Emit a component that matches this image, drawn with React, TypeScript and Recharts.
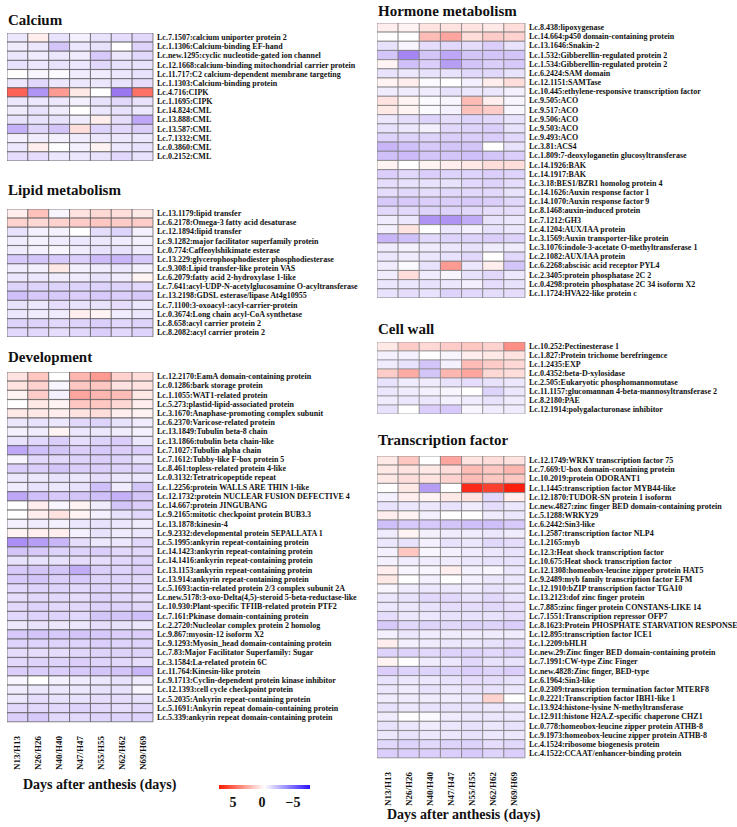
import React from "react"
import { BarChart, Bar, Cell, XAxis, YAxis } from "recharts"

const columns = ["N13/H13", "N26/H26", "N40/H40", "N47/H47", "N55/H55", "N62/H62", "N69/H69"]

const calciumGenes = [
  "Lc.7.1507:calcium uniporter protein 2",
  "Lc.1.1306:Calcium-binding EF-hand",
  "Lc.new.1295:cyclic nucleotide-gated ion channel",
  "Lc.12.1668:calcium-binding mitochondrial carrier protein",
  "Lc.11.717:C2 calcium-dependent membrane targeting",
  "Lc.1.1303:Calcium-binding protein",
  "Lc.4.716:CIPK",
  "Lc.1.1695:CIPK",
  "Lc.14.824:CML",
  "Lc.13.888:CML",
  "Lc.13.587:CML",
  "Lc.7.1332:CML",
  "Lc.0.3860:CML",
  "Lc.0.2152:CML",
]
const calciumValues = [
  [-0.5, 0.3, -0.6, -0.3, -0.6, -0.7, -0.8],
  [-0.4, -0.5, -1.2, -0.5, -0.6, 0, -0.9],
  [-0.5, -0.4, -0.5, -0.4, -1.1, -0.5, -0.8],
  [-0.6, -0.5, -0.6, -0.5, -0.8, -0.6, -0.6],
  [0, -0.2, -0.1, -0.4, -0.4, -0.5, -0.6],
  [-0.5, -0.8, -0.5, -0.5, -0.5, -0.6, -0.7],
  [2.8, -2.2, 1.8, 0.4, 0, -2.8, 2.5],
  [-0.5, -0.5, -0.5, -0.3, -0.6, -0.8, -0.6],
  [-0.4, -0.6, -0.4, 0, -0.5, -0.6, -0.5],
  [-0.6, -0.6, -0.6, -0.4, 0.3, -0.7, -1.8],
  [-1.6, -0.9, -1.2, 0.6, -0.9, -0.8, -1.0],
  [-0.3, -0.4, -0.3, -0.4, -0.5, -0.5, -0.5],
  [-0.5, 0.3, 0, -0.3, 0.2, -0.5, -0.6],
  [-0.7, -0.7, -0.5, -0.5, -0.6, -0.8, -0.6],
]

const lipidGenes = [
  "Lc.13.1179:lipid transfer",
  "Lc.6.2178:Omega-3 fatty acid desaturase",
  "Lc.12.1894:lipid transfer",
  "Lc.9.1282:major facilitator superfamily protein",
  "Lc.0.774:Caffeoylshikimate esterase",
  "Lc.13.229:glycerophosphodiester phosphodiesterase",
  "Lc.9.308:Lipid transfer-like protein VAS",
  "Lc.6.2079:fatty acid 2-hydroxylase 1-like",
  "Lc.7.641:acyl-UDP-N-acetylglucosamine O-acyltransferase",
  "Lc.13.2198:GDSL esterase/lipase At4g10955",
  "Lc.7.1100:3-oxoacyl-:acyl-carrier-protein",
  "Lc.0.3674:Long chain acyl-CoA synthetase",
  "Lc.8.658:acyl carrier protein 2",
  "Lc.8.2082:acyl carrier protein 2",
]
const lipidValues = [
  [0.3, 1.1, -0.2, 0.5, 0.7, 0.6, 0.4],
  [0.8, 0.7, 0.8, 0.9, 1.0, 0.9, 0.9],
  [-0.6, -0.3, -0.3, 0, -0.7, -0.9, -0.3],
  [-0.4, -0.3, -0.4, -0.5, -0.5, -0.4, -0.3],
  [-0.4, -0.3, -0.2, -0.4, -0.6, -0.6, -0.4],
  [-1.1, -1.2, -1.1, -1.0, -1.4, -1.5, -1.1],
  [-0.4, -0.3, 0.4, -0.3, -0.4, -0.5, -0.3],
  [-0.5, -0.5, -0.4, -0.4, -0.6, -0.4, 0.2],
  [-0.9, -0.9, -0.9, -0.9, -0.9, -0.9, -0.8],
  [-1.3, -1.1, -1.1, -1.0, -1.1, -1.0, -1.1],
  [-0.6, -0.5, -0.7, -0.6, -0.6, -0.7, -0.5],
  [-0.5, -0.4, -0.4, 0.3, 0.2, -0.4, -0.5],
  [-0.9, -0.9, -0.8, -0.9, -1.0, -0.8, -0.9],
  [-0.8, -0.8, -0.7, -0.8, -1.0, -0.8, -0.9],
]

const developmentGenes = [
  "Lc.12.2170:EamA domain-containing protein",
  "Lc.0.1286:bark storage protein",
  "Lc.1.1055:WAT1-related protein",
  "Lc.5.273:plastid-lipid-associated protein",
  "Lc.3.1670:Anaphase-promoting complex subunit",
  "Lc.6.2370:Varicose-related protein",
  "Lc.13.1849:Tubulin beta-8 chain",
  "Lc.13.1866:tubulin beta chain-like",
  "Lc.7.1027:Tubulin alpha chain",
  "Lc.7.1612:Tubby-like F-box protein 5",
  "Lc.8.461:topless-related protein 4-like",
  "Lc.0.3132:Tetratricopeptide repeat",
  "Lc.1.2256:protein WALLS ARE THIN 1-like",
  "Lc.12.1732:protein NUCLEAR FUSION DEFECTIVE 4",
  "Lc.14.667:protein JINGUBANG",
  "Lc.9.2165:mitotic checkpoint protein BUB3.3",
  "Lc.13.1878:kinesin-4",
  "Lc.9.2332:developmental protein SEPALLATA 1",
  "Lc.5.1995:ankyrin repeat-containing protein",
  "Lc.14.1423:ankyrin repeat-containing protein",
  "Lc.14.1416:ankyrin repeat-containing protein",
  "Lc.13.1153:ankyrin repeat-containing protein",
  "Lc.13.914:ankyrin repeat-containing protein",
  "Lc.5.1693:actin-related protein 2/3 complex subunit 2A",
  "Lc.new.5178:3-oxo-Delta(4,5)-steroid 5-beta-reductase-like",
  "Lc.10.930:Plant-specific TFIIB-related protein PTF2",
  "Lc.7.161:Pkinase domain-containing protein",
  "Lc.2.2720:Nucleolar complex protein 2 homolog",
  "Lc.9.867:myosin-12 isoform X2",
  "Lc.9.1293:Myosin_head domain-containing protein",
  "Lc.7.83:Major Facilitator Superfamily: Sugar",
  "Lc.3.1584:La-related protein 6C",
  "Lc.11.764:Kinesin-like protein",
  "Lc.9.1713:Cyclin-dependent protein kinase inhibitor",
  "Lc.12.1393:cell cycle checkpoint protein",
  "Lc.5.2035:Ankyrin repeat-containing protein",
  "Lc.5.1691:Ankyrin repeat domain-containing protein",
  "Lc.5.339:ankyrin repeat domain-containing protein",
]
const developmentValues = [
  [0.5, 1.0, 0, 1.3, 1.8, 0.8, 0.6],
  [0.5, 0.8, -0.2, 1.0, 1.0, 0.5, 0.5],
  [0.2, 0.9, -0.3, 1.6, 1.3, 1.2, 0.4],
  [0, 0.4, 0.2, 1.0, 1.0, 0.7, 0.3],
  [0.4, 0.4, 0.3, 0.5, 0.6, 0.3, 0.2],
  [-0.5, -0.6, -0.5, -0.8, -0.9, -0.6, -0.4],
  [-0.3, -0.4, 0.2, -0.5, -0.5, -0.4, -0.3],
  [-0.6, -0.8, -1.0, -0.7, -0.9, -1.0, -0.5],
  [-1.8, -1.3, -1.2, -1.0, -1.1, -1.0, -1.0],
  [-0.2, -0.8, -0.8, -0.9, -1.0, -0.9, -0.6],
  [-1.0, -1.0, -1.2, -1.0, -1.0, -0.9, -0.9],
  [-0.5, -0.5, -0.6, -0.5, -0.7, -0.5, -0.5],
  [-0.4, -0.6, -0.5, -0.6, -1.3, -0.4, -1.2],
  [-1.8, -1.3, -1.1, -1.2, -1.3, -1.6, -1.2],
  [0, 0.3, -0.2, 0.2, -0.4, -1.2, -1.0],
  [0, 0.3, 0.5, 0.2, -0.3, -0.6, -0.8],
  [-0.3, -0.4, -0.3, -0.5, -0.6, -0.5, -0.4],
  [0.2, 0.3, 0.3, -0.3, -0.6, -0.4, -0.5],
  [-2.3, -2.0, -1.5, -0.7, -0.5, -0.5, -0.8],
  [-1.2, -1.1, -0.9, -0.9, -1.0, -0.8, -0.8],
  [-0.6, -0.6, -0.6, -0.7, -0.7, -0.8, -0.9],
  [-1.1, -1.2, -1.2, -1.7, -1.0, -0.9, -1.0],
  [-1.1, -1.2, -1.0, -1.1, -0.9, -0.9, -0.8],
  [-0.8, -0.9, -0.9, -0.8, -0.9, -0.8, -0.8],
  [-0.7, -0.8, -0.8, -0.7, -0.9, -0.8, -0.7],
  [-0.8, -0.9, -0.8, -0.8, -0.9, -0.9, -0.8],
  [-0.8, -0.9, -0.9, -0.8, -1.2, -1.2, -1.3],
  [-0.5, -0.6, -0.5, -0.5, -0.7, -0.6, -0.5],
  [-1.1, -1.2, -1.1, -1.2, -1.1, -1.0, -1.0],
  [-0.9, -0.9, -0.9, -0.9, -1.0, -0.9, -0.9],
  [-0.7, -0.7, -0.7, -0.8, -0.9, -0.9, -0.9],
  [-0.8, -0.9, -0.9, -1.0, -0.9, -0.8, -0.7],
  [-1.0, -1.0, -1.0, -1.1, -1.2, -1.2, -1.5],
  [-0.2, 0, -0.3, -0.4, -0.5, -0.6, -0.4],
  [-0.4, -0.5, -0.5, -0.5, -0.6, -0.6, -0.2],
  [-0.5, -0.7, -0.6, -0.6, -0.7, -0.7, -0.6],
  [-0.8, -0.8, -0.8, -0.9, -0.8, -0.7, -0.8],
  [-1.0, -1.1, -0.8, -0.8, -0.9, -0.9, -0.9],
]

const hormoneGenes = [
  "Lc.8.438:lipoxygenase",
  "Lc.14.664:p450 domain-containing protein",
  "Lc.13.1646:Snakin-2",
  "Lc.1.532:Gibberellin-regulated protein 2",
  "Lc.1.534:Gibberellin-regulated protein 2",
  "Lc.6.2424:SAM domain",
  "Lc.12.1151:SAMTase",
  "Lc.10.445:ethylene-responsive transcription factor",
  "Lc.9.505:ACO",
  "Lc.9.517:ACO",
  "Lc.9.506:ACO",
  "Lc.9.503:ACO",
  "Lc.9.493:ACO",
  "Lc.3.81:ACS4",
  "Lc.1.809:7-deoxyloganetin glucosyltransferase",
  "Lc.14.1926:BAK",
  "Lc.14.1917:BAK",
  "Lc.3.18:BES1/BZR1 homolog protein 4",
  "Lc.14.1626:Auxin response factor 1",
  "Lc.14.1070:Auxin response factor 9",
  "Lc.8.1468:auxin-induced protein",
  "Lc.7.1212:GH3",
  "Lc.4.1204:AUX/IAA protein",
  "Lc.3.1569:Auxin transporter-like protein",
  "Lc.3.1076:indole-3-acetate O-methyltransferase 1",
  "Lc.2.1082:AUX/IAA protein",
  "Lc.6.2268:abscisic acid receptor PYL4",
  "Lc.2.3405:protein phosphatase 2C 2",
  "Lc.0.4298:protein phosphatase 2C 34 isoform X2",
  "Lc.1.1724:HVA22-like protein c",
]
const hormoneValues = [
  [0.3, 0.2, 0.5, 0.5, 0.5, 0.4, 0.6],
  [0, 0, 1.2, 1.6, 0.6, 0.9, 0.8],
  [-0.6, -0.2, -0.7, -0.8, -0.7, -1.0, -0.6],
  [-1.2, -2.5, -1.2, -1.8, -1.2, -1.2, -1.2],
  [0.2, -1.3, -1.0, -2.0, -1.2, -1.0, -1.1],
  [-0.6, -0.5, -0.6, -0.6, -0.8, -0.8, -0.6],
  [0.2, 0.3, -0.1, 0, -0.3, 0.3, 0.6],
  [-0.4, -0.4, -0.4, -0.6, -0.5, -0.5, -0.3],
  [0.5, 0.2, -0.1, -0.2, 1.2, 0.3, -0.2],
  [0.4, 0.2, -0.1, -0.3, 1.1, 0.9, -0.2],
  [-0.5, -0.7, -0.9, -0.7, -0.9, -0.8, -0.6],
  [-0.6, -0.5, -0.3, -0.8, -0.9, -1.0, -0.6],
  [-0.9, -0.9, -0.9, -1.0, -1.0, -1.0, -0.8],
  [-1.5, -1.3, -1.1, -1.2, -1.2, 0, -0.6],
  [-1.3, -1.4, -1.2, -1.2, -1.3, -1.2, -1.0],
  [0.2, 0, 0.2, 0.3, 0.4, 0.6, 0.6],
  [-1.0, -0.8, -1.0, -0.9, -0.9, -1.0, -0.9],
  [-0.7, -0.6, -0.6, -0.6, -0.8, -0.9, -0.7],
  [-0.7, -0.8, -0.7, -0.8, -0.8, -0.8, -0.6],
  [-1.1, -1.1, -1.0, -1.0, -1.1, -1.0, -0.8],
  [-0.8, -0.8, -0.9, -0.9, -0.8, -0.7, -0.7],
  [-0.4, -0.5, -2.2, -2.2, -1.7, -0.6, -0.5],
  [-0.3, 0.5, 0, -0.5, -0.3, -0.6, -0.5],
  [-1.5, -1.3, -0.8, -0.9, -0.9, -1.0, -0.9],
  [-0.4, -0.3, -0.4, -0.5, -0.6, -0.4, -0.4],
  [-0.5, -0.4, -0.5, -0.6, -0.8, 0, -0.8],
  [-0.4, -0.1, -0.6, 1.8, -0.5, 0.3, -1.2],
  [-0.4, 0.6, -0.4, -0.2, -0.6, -0.8, -0.5],
  [-0.5, -0.5, -0.6, -0.5, -0.3, -0.7, -0.6],
  [-0.6, -0.7, -0.6, -0.9, -0.8, -0.7, -0.7],
]

const cellWallGenes = [
  "Lc.10.252:Pectinesterase 1",
  "Lc.1.827:Protein trichome berefringence",
  "Lc.1.2435:EXP",
  "Lc.0.4352:beta-D-xylosidase",
  "Lc.2.505:Eukaryotic phosphomannomutase",
  "Lc.11.1157:glucomannan 4-beta-mannosyltransferase 2",
  "Lc.8.2180:PAE",
  "Lc.12.1914:polygalacturonase inhibitor",
]
const cellWallValues = [
  [0.4, 0.9, 0.7, 0.9, 1.0, 0.8, 2.0],
  [-0.3, -0.3, 0, -0.2, 0.3, 0.4, 0.5],
  [-0.4, -0.6, -1.2, -0.3, 1.2, 0.9, 0.7],
  [0.9, 1.5, -1.2, 1.3, 1.6, 0.7, 0.6],
  [-0.6, -0.4, -0.4, -0.6, -0.7, -0.6, -0.5],
  [-0.5, -0.4, -0.3, -0.2, 0, -0.9, -0.5],
  [-0.4, -0.5, -0.5, -0.3, -0.4, -0.6, -0.4],
  [-0.6, 0, -1.0, -1.1, -0.2, -0.4, -0.4],
]

const tfGenes = [
  "Lc.12.1749:WRKY transcription factor 75",
  "Lc.7.669:U-box domain-containing protein",
  "Lc.10.2019:protein ODORANT1",
  "Lc.1.1445:transcription factor MYB44-like",
  "Lc.12.1870:TUDOR-SN protein 1 isoform",
  "Lc.new.4827:zinc finger BED domain-containing protein",
  "Lc.5.1288:WRKY29",
  "Lc.6.2442:Sin3-like",
  "Lc.1.2587:transcription factor NLP4",
  "Lc.1.2165:myb",
  "Lc.12.3:Heat shock transcription factor",
  "Lc.10.675:Heat shock transcription factor",
  "Lc.12.1308:homeobox-leucine zipper protein HAT5",
  "Lc.9.2489:myb family transcription factor EFM",
  "Lc.12.1910:bZIP transcription factor TGA10",
  "Lc.13.2123:dof zinc finger protein",
  "Lc.7.885:zinc finger protein CONSTANS-LIKE 14",
  "Lc.7.1551:Transcription repressor OFP7",
  "Lc.8.1623:Protein PHOSPHATE STARVATION RESPONSE",
  "Lc.12.895:transcription factor ICE1",
  "Lc.1.2209:bHLH",
  "Lc.new.29:Zinc finger BED domain-containing protein",
  "Lc.7.1991:CW-type Zinc Finger",
  "Lc.new.4828:Zinc finger, BED-type",
  "Lc.6.1964:Sin3-like",
  "Lc.0.2309:transcription termination factor MTERF8",
  "Lc.0.2221:Transcription factor IBH1-like 1",
  "Lc.13.924:histone-lysine N-methyltransferase",
  "Lc.12.911:histone H2A.Z-specific chaperone CHZ1",
  "Lc.0.778:homeobox-leucine zipper protein ATHB-8",
  "Lc.9.1973:homeobox-leucine zipper protein ATHB-8",
  "Lc.4.1524:ribosome biogenesis protein",
  "Lc.4.1522:CCAAT/enhancer-binding protein",
]
const tfValues = [
  [0.4, 1.0, 0, 1.6, 0.5, 0.6, 0.5],
  [0.4, 0.5, 0.4, 0.6, 1.2, 1.0, 1.3],
  [0.4, 0.6, 0.5, 0.8, 1.2, 1.0, 1.0],
  [0, 0.4, -2.0, 0, 3.8, 3.4, 4.2],
  [-0.3, 0.3, 0.2, 0.4, 0.5, -0.8, 0.3],
  [-0.6, -0.5, -0.5, -0.6, -0.4, -0.7, -0.5],
  [0.3, 0.2, -0.3, 0, 0, -0.4, -0.5],
  [-1.3, -1.1, -1.1, -1.2, -1.3, -1.3, -1.1],
  [-0.4, 0.2, -0.3, -0.4, -0.4, -0.5, -0.4],
  [-0.5, -0.6, -0.3, -0.6, -0.5, -0.8, -0.7],
  [-0.3, 1.0, -0.2, -0.3, -0.4, -0.5, -0.6],
  [-0.3, -0.4, -0.4, -0.4, -0.5, -0.6, -0.6],
  [0.3, -0.2, -0.2, 0.3, -0.3, -0.2, -0.5],
  [0.4, 0, -0.3, 0, -0.3, -0.5, -0.5],
  [-0.2, -0.4, -0.5, -0.5, -0.4, -0.6, -0.5],
  [-0.5, -0.6, -0.8, -0.8, -0.6, -0.8, -0.6],
  [-0.5, -0.5, -0.6, -0.7, -0.7, -0.8, -0.7],
  [-0.7, -0.5, -0.5, -0.6, -0.6, -0.6, -0.7],
  [-1.1, -0.8, -0.9, -0.8, -0.9, -0.9, -1.0],
  [-0.3, -0.5, -0.4, -0.4, -0.4, -0.4, -0.4],
  [0.3, -0.3, -0.4, -0.5, -0.5, -0.6, -0.7],
  [-0.9, -0.9, -0.8, -0.9, -0.9, -0.8, -0.9],
  [0.2, 0, -0.4, -0.5, -0.8, -0.6, -0.6],
  [-1.0, -0.9, -0.9, -0.9, -1.0, -0.9, -1.0],
  [-0.6, -0.5, -0.5, -0.6, -0.7, -0.7, -0.6],
  [-0.5, -0.4, -0.6, -0.5, -0.6, -0.6, -0.5],
  [-0.4, -0.4, -0.4, -0.4, -0.5, 0.8, 0],
  [-0.6, -0.5, -0.6, -0.6, -0.6, -0.5, -0.5],
  [-0.4, 0, -0.1, -0.4, -0.5, -0.5, -0.5],
  [-0.6, -0.5, -0.4, -0.5, -0.6, -0.5, -0.6],
  [-0.5, -0.6, -0.5, -0.5, -0.6, -0.5, -0.5],
  [-0.8, -0.9, -0.8, -0.9, -0.9, -0.7, -0.8],
  [-1.0, -1.0, -1.0, -1.0, -1.1, -0.9, -1.0],
]

const legendTicks = ["5", "0", "\u22125"]

const FONT = "'Liberation Serif', 'Times New Roman', serif"

// white -> red for up, white -> violet for down, saturating at |4|
function heatColor(v: number) {
  const t = Math.min(Math.abs(v) / 4, 1)
  const end = v >= 0 ? [250, 30, 12] : [110, 60, 235]
  const c = end.map((e) => Math.round(255 + (e - 255) * t))
  return `rgb(${c[0]},${c[1]},${c[2]})`
}

function ColumnTick(props: any) {
  const { x, y, payload } = props
  const label = columns[Math.floor(payload.value)]
  return (
    <text
      transform={`translate(${x + 3},${y + 6}) rotate(-90)`}
      textAnchor="end"
      fontFamily={FONT}
      fontWeight="bold"
      fontSize={9}
      fill="#111"
    >
      {label}
    </text>
  )
}

// plain svg text so long gene names are not wrapped
function GeneTick(props: any) {
  const { x, y, payload } = props
  return (
    <text x={x} y={y} dy="0.32em" textAnchor="start" fontFamily={FONT} fontWeight="bold" fontSize={8} fill="#111">
      {payload.value}
    </text>
  )
}

interface PanelProps {
  title: string
  titleTop: number
  left: number
  top: number
  gridW: number
  gridH: number
  genes: string[]
  values: number[][]
  showColumns?: boolean
  stroke: string
}

function HeatPanel({ title, titleTop, left, top, gridW, gridH, genes, values, showColumns, stroke }: PanelProps) {
  const data = genes.map((g) => {
    const row: any = { name: g }
    columns.forEach((_, i) => (row["c" + i] = 1))
    return row
  })
  const labelW = 212
  const axisH = showColumns ? 50 : 0
  return (
    <>
      <div
        style={{
          position: "absolute",
          left: left + 1,
          top: titleTop,
          fontFamily: FONT,
          fontWeight: "bold",
          fontSize: 15,
          lineHeight: "15px",
          color: "#111",
          whiteSpace: "nowrap",
        }}
      >
        {title}
      </div>
      <div style={{ position: "absolute", left, top }}>
        <BarChart
          width={gridW + labelW}
          height={gridH + axisH}
          data={data}
          layout="vertical"
          barCategoryGap={0}
          barGap={0}
          margin={{ top: 0, right: 0, bottom: 0, left: 0 }}
        >
          <XAxis
            type="number"
            domain={[0, 7]}
            ticks={[0.5, 1.5, 2.5, 3.5, 4.5, 5.5, 6.5]}
            hide={!showColumns}
            height={axisH}
            axisLine={false}
            tickLine={false}
            tick={<ColumnTick />}
            interval={0}
          />
          <YAxis
            type="category"
            dataKey="name"
            orientation="right"
            width={labelW}
            axisLine={false}
            tickLine={false}
            tickSize={0}
            tickMargin={4}
            interval={0}
            tick={<GeneTick />}
          />
          {columns.map((_, ci) => (
            <Bar
              key={ci}
              dataKey={"c" + ci}
              stackId="heat"
              isAnimationActive={false}
              stroke={stroke}
              strokeWidth={0.7}
            >
              {values.map((row, ri) => (
                <Cell key={ri} fill={heatColor(row[ci])} />
              ))}
            </Bar>
          ))}
        </BarChart>
      </div>
    </>
  )
}

export default function App() {
  return (
    <div
      style={{
        position: "absolute",
        left: 0,
        top: 0,
        width: 737,
        height: 827,
        background: "#fff",
        overflow: "hidden",
      }}
    >
      <HeatPanel title="Calcium" titleTop={13} left={7} top={33} gridW={146} gridH={128}
        genes={calciumGenes} values={calciumValues} stroke="#555" />
      <HeatPanel title="Lipid metabolism" titleTop={183} left={7} top={209} gridW={146} gridH={128}
        genes={lipidGenes} values={lipidValues} stroke="#555" />
      <HeatPanel title="Development" titleTop={350} left={7} top={372} gridW={146} gridH={350}
        genes={developmentGenes} values={developmentValues} showColumns stroke="#555" />

      <HeatPanel title="Hormone metabolism" titleTop={4} left={377} top={23} gridW={148} gridH={275}
        genes={hormoneGenes} values={hormoneValues} stroke="#777" />
      <HeatPanel title="Cell wall" titleTop={322} left={377} top={342} gridW={148} gridH={72}
        genes={cellWallGenes} values={cellWallValues} stroke="#888" />
      <HeatPanel title="Transcription factor" titleTop={433} left={377} top={456} gridW={148} gridH={302}
        genes={tfGenes} values={tfValues} showColumns stroke="#777" />

      <div style={{ position: "absolute", left: 23, top: 778, fontFamily: FONT, fontWeight: "bold", fontSize: 14, lineHeight: "14px", whiteSpace: "nowrap", color: "#111" }}>
        Days after anthesis (days)
      </div>
      <div style={{ position: "absolute", left: 387, top: 808, fontFamily: FONT, fontWeight: "bold", fontSize: 14, lineHeight: "14px", whiteSpace: "nowrap", color: "#111" }}>
        Days after anthesis (days)
      </div>

      <div
        style={{
          position: "absolute",
          left: 219,
          top: 785,
          width: 91,
          height: 4,
          background: "linear-gradient(to right, #ff1a00, #ffffff 50%, #2a12ff)",
        }}
      />
      {legendTicks.map((t, i) => (
        <div
          key={t}
          style={{
            position: "absolute",
            left: [233, 262, 293][i] - 15,
            width: 30,
            textAlign: "center",
            top: 796,
            fontFamily: FONT,
            fontWeight: "bold",
            fontSize: 14,
            lineHeight: "14px",
            color: "#111",
          }}
        >
          {t}
        </div>
      ))}
    </div>
  )
}
